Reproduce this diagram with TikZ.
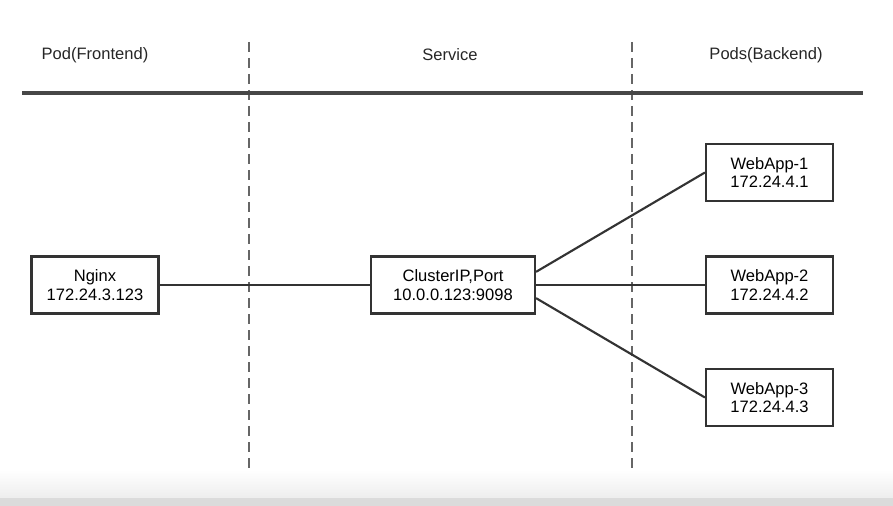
\documentclass[tikz,border=0pt]{standalone}
\usepackage{fontspec}
\setmainfont{Liberation Sans}
\colorlet{ink}{black!80}
\colorlet{divider}{black!60}
\tikzset{
  svc/box/.style={draw=ink, line width=1.6pt, fill=white, inner sep=0pt,
    minimum width=95.25pt, minimum height=42.75pt, align=center,
    font=\fontsize{12.4}{13.8}\selectfont},
  svc/link/.style={ink, line width=1.6pt},
  svc/lane/.style={divider, line width=1pt, dash pattern=on 7.5pt off 4.5pt},
  svc/head/.style={font=\fontsize{12.4}{13.8}\selectfont, text=black!85}
}

\begin{document}
\begin{tikzpicture}[x=0.75pt, y=-0.75pt]
  \useasboundingbox (0,0) rectangle (893,506);
  % bottom edge of the capture
  \shade[top color=white, bottom color=black!7] (0,470) rectangle (893,498);
  \fill[black!14] (0,498) rectangle (893,506);
  % lanes
  \draw[svc/lane] (249,42) -- (249,472);
  \draw[svc/lane] (632,42) -- (632,472);
  \draw[black!72, line width=2.6pt] (22,93) -- (863,93);
  \node[svc/head] (front) at (95,55) {Pod(Frontend)};
  \node[svc/head] (service) at (450,55) {Service};
  \node[svc/head] (back) at (766,55) {Pods(Backend)};
  % boxes
  \node[svc/box] (nginx) at (95,285) {Nginx\\172.24.3.123};
  \node[svc/box, minimum width=123pt] (cip) at (453,285) {ClusterIP,Port\\10.0.0.123:9098};
  \node[svc/box] (web1) at (769.5,172.5) {WebApp-1\\172.24.4.1};
  \node[svc/box] (web2) at (769.5,285) {WebApp-2\\172.24.4.2};
  \node[svc/box] (web3) at (769.5,397.5) {WebApp-3\\172.24.4.3};
  % links
  \draw[svc/link] (nginx.east) -- (cip.west);
  \draw[svc/link] (cip.9) -- (web1.west);
  \draw[svc/link] (cip.east) -- (web2.west);
  \draw[svc/link] (cip.-9) -- (web3.west);
\end{tikzpicture}
\end{document}
